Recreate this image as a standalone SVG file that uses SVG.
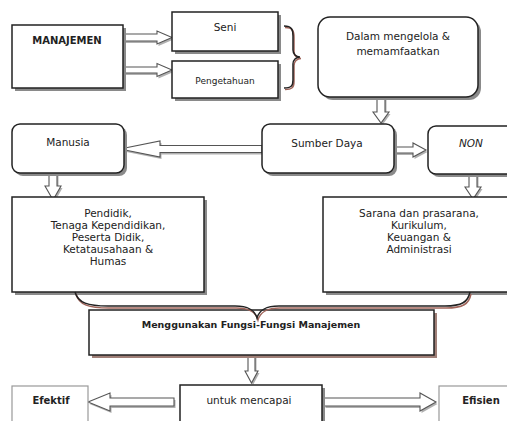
<svg xmlns="http://www.w3.org/2000/svg" xmlns:xlink="http://www.w3.org/1999/xlink" width="507" height="421" viewBox="0 0 507 421">
<defs>
<style>
.box{fill:#fff;stroke:#222;stroke-width:1.5}
.lbox{fill:#fff;stroke:#999;stroke-width:1.2}
.sh{fill:#8a8a8a;stroke:none}
.shr{fill:#a08078;stroke:none}
.arr{fill:#fff;stroke:#555;stroke-width:1.1;stroke-linejoin:miter}
.ash{fill:#b0b0b0;stroke:none}
.brace{fill:none;stroke:#222;stroke-width:1.5}
.bsh{fill:none;stroke:#a0645a;stroke-width:1.5}
text{font-family:"DejaVu Sans","Liberation Sans",sans-serif;font-size:10.5px;fill:#222;text-anchor:middle}
.b{font-weight:bold;font-size:10px}
.s{font-size:9px}
.i{font-style:italic}
</style>
</defs>
<rect width="507" height="421" fill="#fff"/>

<g id="connectors">
  <g transform="translate(1.5,2)">
    <polygon class="ash" points="123,34 157,34 157,31 172,37.5 157,44 157,41 123,41"/>
    <polygon class="ash" points="123,67 157,67 157,63.5 172,70 157,76.5 157,73 123,73"/>
    <polygon class="ash" points="262,145.5 160,145.5 160,141 120,149 160,157 160,152.5 262,152.5"/>
    <polygon class="ash" points="394,147 413,147 413,143 426,150 413,157 413,153 394,153"/>
    <polygon class="ash" points="377,97 377,112 373,112 381,123 389,112 385,112 385,97"/>
    <polygon class="ash" points="49,173 49,186 45,186 53,200 61,186 57,186 57,173"/>
    <polygon class="ash" points="469,174 469,187 465,187 473,199 481,187 477,187 477,174"/>
    <polygon class="ash" points="248,355 248,371 245,371 251.5,383 258,371 255,371 255,355"/>
    <polygon class="ash" points="174,398 110,398 110,393 88,402 110,411 110,406 174,406"/>
    <polygon class="ash" points="324,398 420,398 420,393 436,402 420,411 420,406 324,406"/>
  </g>
  <polygon class="arr" points="123,34 157,34 157,31 172,37.5 157,44 157,41 123,41"/>
  <polygon class="arr" points="123,67 157,67 157,63.5 172,70 157,76.5 157,73 123,73"/>
  <polygon class="arr" points="262,145.5 160,145.5 160,141 120,149 160,157 160,152.5 262,152.5"/>
  <polygon class="arr" points="394,147 413,147 413,143 426,150 413,157 413,153 394,153"/>
  <polygon class="arr" points="377,97 377,112 373,112 381,123 389,112 385,112 385,97"/>
  <polygon class="arr" points="49,173 49,186 45,186 53,200 61,186 57,186 57,173"/>
  <polygon class="arr" points="469,174 469,187 465,187 473,199 481,187 477,187 477,174"/>
  <polygon class="arr" points="248,355 248,371 245,371 251.5,383 258,371 255,371 255,355"/>
  <polygon class="arr" points="174,398 110,398 110,393 88,402 110,411 110,406 174,406"/>
  <polygon class="arr" points="324,398 420,398 420,393 436,402 420,411 420,406 324,406"/>
</g>

<g id="brace-top">
  <path class="bsh" transform="translate(1,1.5)" d="M284,26 C292,26 293,30 293,36 L293,50 C293,54 296,57 300,57 C296,57 293,60 293,64 L293,80 C293,86 291,88 284,88"/>
  <path class="brace" d="M284,26 C292,26 293,30 293,36 L293,50 C293,54 296,57 300,57 C296,57 293,60 293,64 L293,80 C293,86 291,88 284,88"/>
</g>

<g id="n-manajemen">
  <rect class="sh" x="15" y="28" width="111" height="63"/>
  <rect class="box" x="12" y="25" width="111" height="63"/>
  <text class="b" x="67" y="44">MANAJEMEN</text>
</g>
<g id="n-seni">
  <rect class="sh" x="175" y="15" width="106" height="39"/>
  <rect class="box" x="172" y="12" width="106" height="39"/>
  <text x="225" y="31">Seni</text>
</g>
<g id="n-pengetahuan">
  <rect class="sh" x="175" y="64" width="106" height="37"/>
  <rect class="box" x="172" y="61" width="106" height="37"/>
  <text class="s" x="225" y="84">Pengetahuan</text>
</g>
<g id="n-dalam">
  <rect class="sh" x="321" y="20" width="160" height="80" rx="12"/>
  <rect class="box" x="318" y="17" width="160" height="80" rx="12"/>
  <text x="398" y="40">Dalam mengelola &amp;</text>
  <text x="398" y="55">memamfaatkan</text>
</g>
<g id="n-manusia">
  <rect class="sh" x="15" y="127" width="112" height="49" rx="8"/>
  <rect class="box" x="12" y="124" width="112" height="49" rx="8"/>
  <text x="68" y="146">Manusia</text>
</g>
<g id="n-sumber">
  <rect class="sh" x="265" y="127" width="132" height="49" rx="8"/>
  <rect class="box" x="262" y="124" width="132" height="49" rx="8"/>
  <text x="327" y="147">Sumber Daya</text>
</g>
<g id="n-non">
  <rect class="sh" x="431" y="129" width="90" height="48" rx="8"/>
  <rect class="box" x="428" y="126" width="90" height="48" rx="8"/>
  <text class="i" x="471" y="147">NON</text>
</g>
<g id="n-pendidik">
  <rect class="sh" x="15" y="200" width="192" height="95"/>
  <rect class="box" x="12" y="197" width="192" height="95"/>
  <text x="108" y="217">Pendidik,</text>
  <text x="108" y="229">Tenaga Kependidikan,</text>
  <text x="108" y="241">Peserta Didik,</text>
  <text x="108" y="253">Ketatausahaan &amp;</text>
  <text x="108" y="265">Humas</text>
</g>
<g id="n-sarana">
  <rect class="sh" x="326" y="200" width="200" height="95"/>
  <rect class="box" x="323" y="197" width="200" height="95"/>
  <text x="419" y="217">Sarana dan prasarana,</text>
  <text x="419" y="229">Kurikulum,</text>
  <text x="419" y="241">Keuangan &amp;</text>
  <text x="419" y="253">Administrasi</text>
</g>
<g id="n-menggunakan">
  <rect class="shr" x="92" y="313" width="345" height="45"/>
  <rect class="box" x="89" y="310" width="345" height="45"/>
  <text class="b" style="font-size:9.5px" x="251" y="328">Menggunakan Fungsi-Fungsi Manajemen</text>
</g>
<g id="brace-bottom">
  <path class="bsh" transform="translate(1,2)" d="M75,292 C78,303 88,306 108,306 L235,306 C250,306 255,311 257,318 C259,311 264,306 279,306 L445,306 C462,306 468,302 470,292"/>
  <path class="brace" d="M75,292 C78,303 88,306 108,306 L235,306 C250,306 255,311 257,318 C259,311 264,306 279,306 L445,306 C462,306 468,302 470,292"/>
</g>
<g id="n-untuk">
  <rect class="sh" x="183" y="388" width="142" height="50"/>
  <rect class="box" x="180" y="385" width="142" height="50"/>
  <text x="249" y="404">untuk mencapai</text>
</g>
<g id="n-efektif">
  <rect class="lbox" x="12" y="386" width="76" height="50"/>
  <text class="b" x="51" y="404">Efektif</text>
</g>
<g id="n-efisien">
  <rect class="lbox" x="439" y="386" width="80" height="50"/>
  <text class="b" x="481" y="404">Efisien</text>
</g>
</svg>
